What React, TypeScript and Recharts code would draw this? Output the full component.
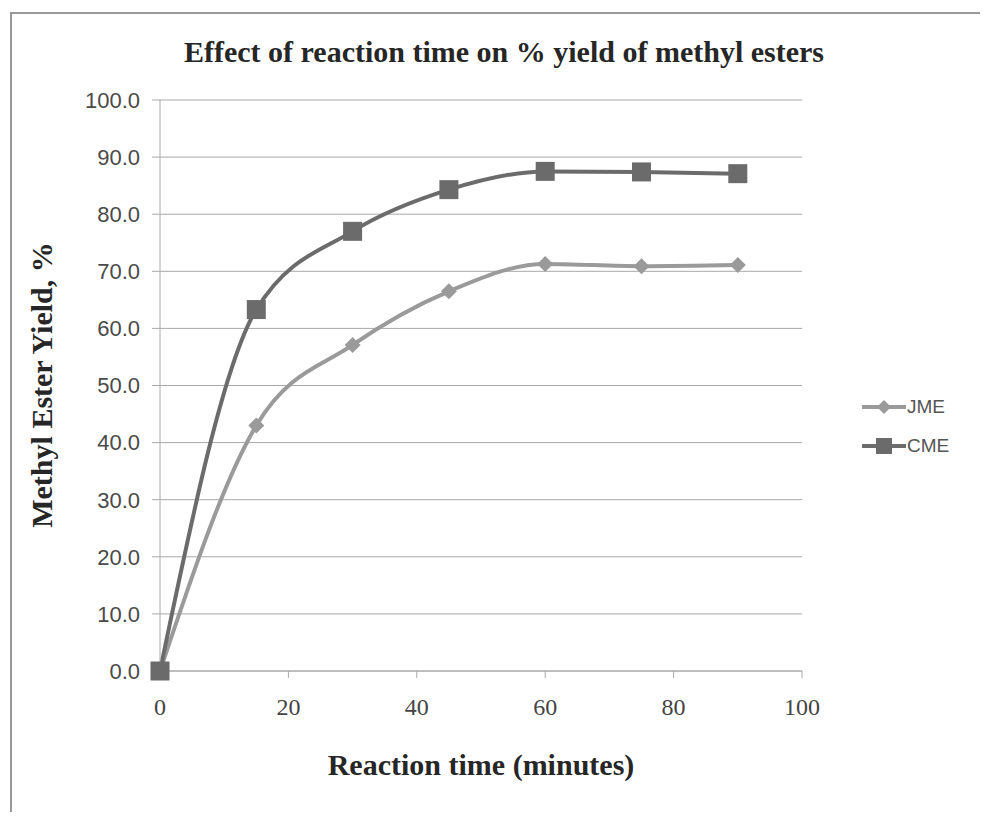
import { LineChart, Line, XAxis, YAxis, CartesianGrid, Legend } from 'recharts'

// reaction time in minutes
const minutes = [0, 15, 30, 45, 60, 75, 90]
const jmeYield = [0, 43.0, 57.1, 66.5, 71.3, 70.9, 71.1]
const cmeYield = [0, 63.3, 77.0, 84.3, 87.5, 87.4, 87.1]
const xTicks = [0, 20, 40, 60, 80, 100]
const yTicks = [0, 10, 20, 30, 40, 50, 60, 70, 80, 90, 100]

const data = minutes.map((t, i) => ({ t, JME: jmeYield[i], CME: cmeYield[i] }))

const JME_COLOR = '#9a9a9a'
const CME_COLOR = '#6b6b6b'
const serif = '"Liberation Serif", "Times New Roman", serif'
const sans = '"Liberation Sans", Arial, sans-serif'

const Diamond = (props: any) => {
  const { cx, cy, fill } = props
  if (cx == null || cy == null) return null
  const r = 8
  return <path d={`M${cx},${cy - r}L${cx + r},${cy}L${cx},${cy + r}L${cx - r},${cy}Z`} fill={fill} />
}

const Square = (props: any) => {
  const { cx, cy, fill } = props
  if (cx == null || cy == null) return null
  const s = 9.5
  return <rect x={cx - s} y={cy - s} width={s * 2} height={s * 2} fill={fill} />
}

const LegendBox = () => (
  <div style={{ fontFamily: sans, fontSize: 19, color: '#555' }}>
    {[
      { name: 'JME', color: JME_COLOR, marker: 'diamond' },
      { name: 'CME', color: CME_COLOR, marker: 'square' },
    ].map((s) => (
      <div key={s.name} style={{ display: 'flex', alignItems: 'center', height: 39 }}>
        <svg width={44} height={22}>
          <line x1={0} y1={11} x2={44} y2={11} stroke={s.color} strokeWidth={4} />
          {s.marker === 'diamond' ? (
            <path d="M22,4L29,11L22,18L15,11Z" fill={s.color} />
          ) : (
            <rect x={14} y={3} width={16} height={16} fill={s.color} />
          )}
        </svg>
        <span style={{ marginLeft: 1 }}>{s.name}</span>
      </div>
    ))}
  </div>
)

const titleStyle = {
  position: 'absolute' as const,
  fontFamily: serif,
  fontWeight: 'bold' as const,
  fontSize: 30,
  color: '#262626',
  whiteSpace: 'nowrap' as const,
  transform: 'translate(-50%, -50%)',
}

export default function App() {
  return (
    <div style={{ position: 'relative', width: 988, height: 820, margin: -8, background: '#fff', overflow: 'hidden' }}>
      <div
        style={{
          position: 'absolute',
          left: 10,
          top: 12,
          width: 1000,
          height: 900,
          borderLeft: '2px solid #999',
          borderTop: '2px solid #999',
        }}
      />
      <div style={{ ...titleStyle, left: 504, top: 52 }}>
        Effect of reaction time on % yield of methyl esters
      </div>
      <div style={{ ...titleStyle, left: 481, top: 765 }}>Reaction time (minutes)</div>
      <div style={{ ...titleStyle, left: 42, top: 385, transform: 'translate(-50%, -50%) rotate(-90deg)' }}>
        Methyl Ester Yield, %
      </div>
      <div style={{ position: 'absolute', left: 0, top: 0 }}>
        <LineChart width={988} height={820} data={data} margin={{ top: 100, right: 56, bottom: 119, left: 60 }}>
          <CartesianGrid horizontal vertical={false} stroke="#a8a8a8" strokeWidth={1} />
          <XAxis
            dataKey="t"
            type="number"
            domain={[0, 100]}
            ticks={xTicks}
            interval={0}
            stroke="#a8a8a8"
            tickSize={7}
            tickMargin={20}
            tick={{ fontFamily: serif, fontSize: 24, fill: '#444' }}
          />
          <YAxis
            type="number"
            domain={[0, 100]}
            ticks={yTicks}
            interval={0}
            width={100}
            stroke="#a8a8a8"
            tickSize={8}
            tickMargin={12}
            tickFormatter={(v: number) => v.toFixed(1)}
            tick={{ fontFamily: sans, fontSize: 22, fill: '#4a4a4a' }}
          />
          <Legend
            layout="vertical"
            align="right"
            verticalAlign="middle"
            wrapperStyle={{ width: 130, left: 862, top: 387 }}
            content={() => <LegendBox />}
          />
          <Line
            type="monotone"
            dataKey="JME"
            stroke={JME_COLOR}
            strokeWidth={4}
            dot={<Diamond fill={JME_COLOR} />}
            isAnimationActive={false}
          />
          <Line
            type="monotone"
            dataKey="CME"
            stroke={CME_COLOR}
            strokeWidth={4}
            dot={<Square fill={CME_COLOR} />}
            isAnimationActive={false}
          />
        </LineChart>
      </div>
    </div>
  )
}
